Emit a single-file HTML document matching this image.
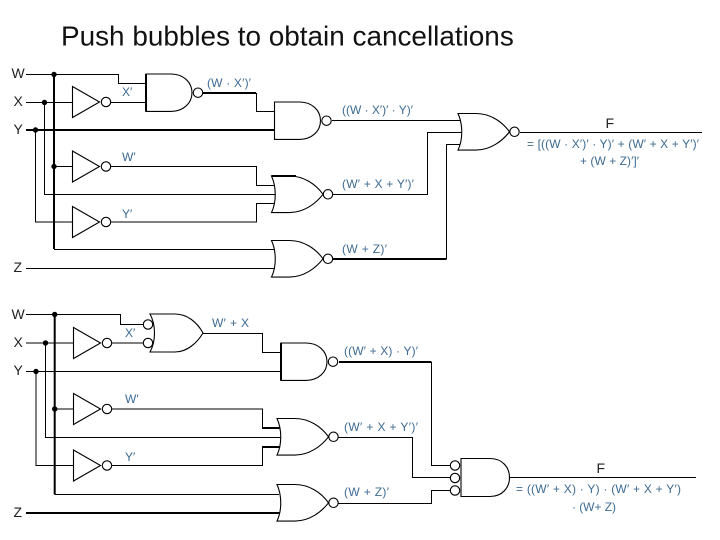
<!DOCTYPE html>
<html><head><meta charset="utf-8"><style>
html,body{margin:0;padding:0;background:#fff;width:720px;height:540px;overflow:hidden}
svg{display:block}
text{font-family:"Liberation Sans",sans-serif}
.w{fill:none;stroke:#000;stroke-width:1}
.t{fill:none;stroke:#000;stroke-width:2}
.g{fill:#fff;stroke:#000;stroke-width:1.1}
.b{fill:#3d6b93;font-size:12px}
.k{fill:#222;font-size:14px}
</style></head><body>
<svg width="720" height="540" viewBox="0 0 720 540" xmlns="http://www.w3.org/2000/svg">
<defs>
<g id="inv"><path class="g" d="M0-15.5L27 0L0 15.5Z"/><circle class="g" cx="33.5" cy="0" r="4.7"/></g>
<g id="and"><path class="g" d="M0 0H25C37 0 46 8 46 18.7S37 37.4 25 37.4H0Z"/><circle class="g" cx="52" cy="18.7" r="4.7"/></g>
<g id="nor"><path class="g" d="M0 0H18C32 0 44 8 51.500 18.300C44 28 32 36.600 18 36.600H0C5 26 5 11 0 0Z"/><circle class="g" cx="56.500" cy="18.300" r="4.700"/></g>
</defs>
<text x="61" y="45.700" font-size="27.900" fill="#111">Push bubbles to obtain cancellations</text>

<!-- TOP -->
<path class="w" d="M26 74.500H118.500V83.500H146M26 102.500H72M111 102.500H146M44.500 102.500V194.500H277M35.500 130V222H72"/>
<path class="t" d="M26 130H274M54 74V249"/>
<path class="w" d="M54 249.500H274M54 166.500H72M111 166.500H256.500V185.500H274M111 222H256.500V203.500H274M26 268.500H276"/>
<path class="t" d="M203 93H256"/><path class="w" d="M256.500 93V111.500H274.500"/>
<path class="w" d="M332 120.500H460M333 194.500H427.500V132.500H463"/>
<path class="t" d="M333 259H446.500"/><path class="w" d="M446.500 259V144.500H460"/>
<path class="w" d="M520 132.500H702"/>
<g fill="#000"><circle cx="54" cy="74.500" r="2.700"/><circle cx="44.500" cy="102.500" r="2.700"/><circle cx="35.500" cy="130" r="2.700"/><circle cx="54" cy="166.500" r="2.700"/></g>
<use href="#inv" x="72.500" y="102"/><use href="#inv" x="72.500" y="166.500"/><use href="#inv" x="72.500" y="222"/>
<use href="#and" x="146" y="74"/><use href="#and" x="274.500" y="102"/>
<path class="t" d="M146 74V111.500"/>
<use href="#nor" x="271.500" y="176"/><use href="#nor" x="271.500" y="240.500"/><use href="#nor" x="458" y="113.500"/>
<path class="t" d="M271.500 176H296"/>

<text class="k" x="11.500" y="78">W</text><text class="k" x="13.500" y="106">X</text><text class="k" x="13.500" y="134">Y</text><text class="k" x="13.500" y="272">Z</text>
<text class="b" x="122" y="96">X′</text><text class="b" x="122" y="161">W′</text><text class="b" x="122" y="218">Y′</text>
<text class="b" x="207" y="87" textLength="44">(W · X′)′</text>
<text class="b" x="342" y="114" textLength="71">((W · X′)′ · Y)′</text>
<text class="b" x="342" y="188" textLength="72">(W′ + X + Y′)′</text>
<text class="b" x="342" y="253" textLength="45">(W + Z)′</text>
<text class="k" x="605.500" y="128">F</text>
<text class="b" x="527" y="148" textLength="172">= [((W · X′)′ · Y)′ + (W′ + X + Y′)′</text>
<text class="b" x="580" y="165" textLength="59">+ (W + Z)′]′</text>

<!-- BOTTOM -->
<path class="w" d="M26 314.500H120.500V324.500H144M26 343H73M112 343H144M45.500 343V437.500H283M26 371.500H281M36 371.500V465.500H73"/>
<path class="t" d="M54.700 314V494.500"/>
<path class="w" d="M54.700 494.500H279M54.700 409H73M112 409H262.500V428M112 465.500H262.500V447M203 333.500H262.500V352.500H281"/>
<path class="t" d="M262 428H281M262 447H281M26 513H281M339 362H431.500"/>
<path class="w" d="M431.500 362V465.500H451M337 437.500H412.500V477.500H451M337 503.500H431.500V490.500H451M510 477.500H696"/>
<g fill="#000"><circle cx="54.700" cy="314.500" r="2.700"/><circle cx="45.500" cy="343" r="2.700"/><circle cx="36" cy="371.500" r="2.700"/><circle cx="54.700" cy="409" r="2.700"/></g>
<use href="#inv" x="73.500" y="343"/><use href="#inv" x="73.500" y="409"/><use href="#inv" x="73.500" y="465.500"/>
<path class="g" d="M150 314H175C187 314 197 322 203 333C197 343 187 352 175 352H150C156 341 156 325 150 314Z"/>
<circle class="g" cx="148" cy="324.500" r="4.700"/><circle class="g" cx="148" cy="343" r="4.700"/>
<use href="#and" x="281" y="343"/>
<path class="t" d="M281 343V380.500"/>
<use href="#nor" x="277" y="418.500"/><use href="#nor" x="277" y="484.500"/>
<path class="g" d="M461 458.500H490C502 458.500 509.500 467 509.500 477.500S502 496.500 490 496.500H461Z"/>
<circle class="g" cx="455" cy="465.500" r="4.700"/><circle class="g" cx="455" cy="478" r="4.700"/><circle class="g" cx="455" cy="490.500" r="4.700"/>

<text class="k" x="11.500" y="319">W</text><text class="k" x="13.500" y="347">X</text><text class="k" x="13.500" y="375">Y</text><text class="k" x="13.500" y="517">Z</text>
<text class="b" x="125" y="337">X′</text><text class="b" x="125" y="403">W′</text><text class="b" x="125" y="461">Y′</text>
<text class="b" x="212" y="327" textLength="37">W′ + X</text>
<text class="b" x="344" y="355" textLength="74">((W′ + X) · Y)′</text>
<text class="b" x="344" y="431" textLength="74">(W′ + X + Y′)′</text>
<text class="b" x="344" y="496" textLength="45">(W + Z)′</text>
<text class="k" x="596.500" y="473">F</text>
<text class="b" x="516" y="493" textLength="165">= ((W′ + X) · Y) · (W′ + X + Y′)</text>
<text class="b" x="572" y="511" textLength="44">· (W+ Z)</text>
</svg>
</body></html>
